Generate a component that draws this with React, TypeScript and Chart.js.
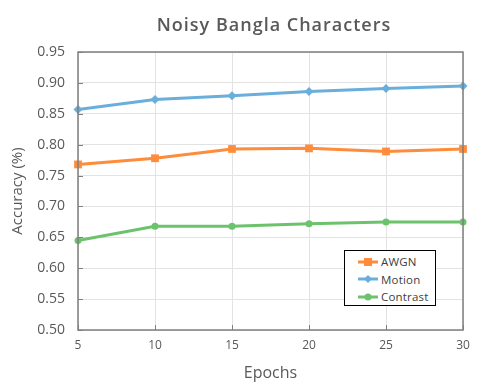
import React, { useEffect, useRef } from "react";
import { Chart, registerables } from "chart.js";

Chart.register(...registerables);

const epochs = [5, 10, 15, 20, 25, 30];
const awgn = [0.768, 0.778, 0.793, 0.794, 0.789, 0.793];
const motion = [0.857, 0.873, 0.879, 0.886, 0.891, 0.895];
const contrast = [0.645, 0.668, 0.668, 0.672, 0.675, 0.675];
const seriesNames = ["AWGN", "Motion", "Contrast"];
const colors = ["#FF8C3A", "#6AAEDB", "#6DC26D"];
const pointStyles = ["rect", "rectRot", "circle"];
const pointRadii = [5.5, 4.5, 3.5];
const titleText = "Noisy Bangla Characters";
const yTitle = "Accuracy (%)";
const xTitle = "Epochs";

const FONT = "'Open Sans', sans-serif";
const TEXT = "#595959";

const boxPlugin = {
  id: "boxPlugin",
  afterDraw(chart: any) {
    const { ctx, chartArea: a, scales } = chart;
    ctx.save();
    ctx.strokeStyle = "#7f7f7f";
    ctx.lineWidth = 1.5;
    ctx.strokeRect(a.left, a.top, a.right - a.left, a.bottom - a.top);
    ctx.lineWidth = 1;
    ctx.beginPath();
    scales.y.ticks.forEach((t: any) => {
      const y = Math.round(scales.y.getPixelForValue(t.value)) + 0.5;
      ctx.moveTo(a.left, y);
      ctx.lineTo(a.left + 5, y);
    });
    scales.x.ticks.forEach((t: any) => {
      const x = Math.round(scales.x.getPixelForValue(t.value)) + 0.5;
      ctx.moveTo(x, a.bottom);
      ctx.lineTo(x, a.bottom - 5);
    });
    ctx.stroke();
    ctx.restore();
  },
};

function LegendMarker({ i }: { i: number }) {
  const c = colors[i];
  let marker: React.ReactNode;
  if (i === 0) marker = <rect x={6} y={3} width={8} height={8} fill={c} />;
  else if (i === 1) marker = <polygon points="10,3 14,7 10,11 6,7" fill={c} />;
  else marker = <circle cx={10} cy={7} r={3.5} fill={c} />;
  return (
    <svg width={20} height={14} style={{ marginRight: 3 }}>
      <line x1={0} y1={7} x2={20} y2={7} stroke={c} strokeWidth={3} />
      {marker}
    </svg>
  );
}

export default function App() {
  const ref = useRef<HTMLCanvasElement>(null);
  useEffect(() => {
    const data = [awgn, motion, contrast];
    const chart = new Chart(ref.current!, {
      type: "line",
      data: {
        datasets: seriesNames.map((name, i) => ({
          label: name,
          data: epochs.map((e, j) => ({ x: e, y: data[i][j] })),
          borderColor: colors[i],
          backgroundColor: colors[i],
          borderWidth: 3,
          pointStyle: pointStyles[i] as any,
          pointRadius: pointRadii[i],
          pointBorderWidth: 0,
          tension: 0,
          clip: false as any,
        })),
      },
      options: {
        animation: false,
        responsive: false,
        layout: { padding: { top: 52, right: 35, left: 0, bottom: 0 } },
        plugins: {
          legend: { display: false },
          title: { display: false },
          tooltip: { enabled: false },
        },
        scales: {
          x: {
            type: "linear",
            min: 5,
            max: 30,
            ticks: {
              stepSize: 5,
              color: TEXT,
              font: { family: FONT, size: 12 },
              padding: 8,
            },
            grid: { color: "#e3e3e3", drawTicks: false },
            border: { display: false },
            title: {
              display: true,
              text: xTitle,
              color: TEXT,
              font: { family: FONT, size: 16 },
              padding: { top: 0, bottom: 7 },
            },
            afterFit(s: any) {
              s.height = 60;
            },
          },
          y: {
            min: 0.5,
            max: 0.95,
            ticks: {
              stepSize: 0.05,
              color: TEXT,
              font: { family: FONT, size: 14 },
              padding: 13,
              callback: (v: any) => Number(v).toFixed(2),
            },
            grid: { color: "#e3e3e3", drawTicks: false },
            border: { display: false },
            title: {
              display: true,
              text: yTitle,
              color: TEXT,
              font: { family: FONT, size: 15 },
              padding: { top: 9, bottom: 0 },
            },
            afterFit(s: any) {
              s.width = 78;
            },
          },
        },
      },
      plugins: [boxPlugin],
    });
    return () => chart.destroy();
  }, []);

  return (
    <div style={{ position: "fixed", left: 0, top: 0, width: 498, height: 390, background: "#fff" }}>
      <canvas ref={ref} width={498} height={390} style={{ position: "absolute", left: 0, top: 0 }} />
      <div
        style={{
          position: "absolute",
          left: 0,
          width: 548,
          top: 12,
          textAlign: "center",
          fontFamily: FONT,
          fontSize: 18,
          fontWeight: 600,
          letterSpacing: 1,
          color: TEXT,
          whiteSpace: "nowrap",
        }}
      >
        {titleText}
      </div>
      <div
        style={{
          position: "absolute",
          left: 344,
          top: 250,
          width: 92,
          height: 56,
          border: "1px solid #000",
          background: "#fff",
          fontFamily: FONT,
          fontSize: 11.5,
          color: "#404040",
          letterSpacing: 0.2,
          padding: "2px 0 0 13px",
          boxSizing: "border-box",
        }}
      >
        {seriesNames.map((n, i) => (
          <div key={n} style={{ display: "flex", alignItems: "center", height: 17.5 }}>
            <LegendMarker i={i} />
            <span>{n}</span>
          </div>
        ))}
      </div>
    </div>
  );
}
